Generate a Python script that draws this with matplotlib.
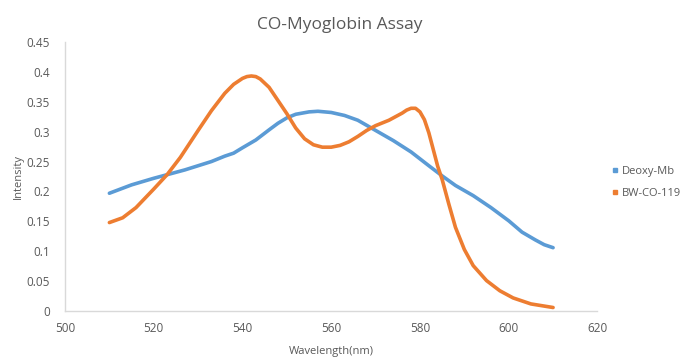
import matplotlib
matplotlib.use("Agg")
import matplotlib.pyplot as plt

plt.rcParams['font.family'] = ['Open Sans', 'DejaVu Sans']

title = "CO-Myoglobin Assay"
x_label = "Wavelength(nm)"
y_label = "Intensity"

deoxy_wl = [510, 515, 520, 523, 527, 530, 533, 536, 538, 540, 543, 546, 548, 550,
            552, 555, 557, 560, 563, 566, 570, 574, 578, 582, 585, 588, 592, 596,
            600, 603, 606, 608, 610]
deoxy_val = [0.197, 0.211, 0.222, 0.228, 0.236, 0.243, 0.250, 0.259, 0.264, 0.273,
             0.286, 0.303, 0.314, 0.323, 0.329, 0.333, 0.334, 0.332, 0.327, 0.319,
             0.302, 0.285, 0.266, 0.243, 0.226, 0.210, 0.193, 0.173, 0.151, 0.132,
             0.119, 0.111, 0.106]

bw_wl = [510, 513, 516, 520, 523, 526, 530, 533, 536, 538, 540, 541, 542, 543, 544,
         546, 548, 550, 552, 554, 556, 558, 560, 562, 564, 566, 568, 570, 573, 576,
         577, 578, 579, 580, 581, 582, 583, 584, 585, 586.5, 588, 590, 592, 595, 598,
         601, 605, 610]
bw_val = [0.148, 0.156, 0.173, 0.204, 0.228, 0.257, 0.302, 0.335, 0.364, 0.379,
          0.389, 0.392, 0.393, 0.392, 0.388, 0.374, 0.352, 0.330, 0.306, 0.288,
          0.278, 0.274, 0.274, 0.277, 0.283, 0.292, 0.302, 0.310, 0.319, 0.331,
          0.336, 0.339, 0.339, 0.333, 0.320, 0.298, 0.270, 0.242, 0.220, 0.179,
          0.140, 0.103, 0.076, 0.051, 0.034, 0.022, 0.012, 0.006]

series_names = ["Deoxy-Mb", "BW-CO-119"]
colors = ["#5B9BD5", "#ED7D31"]

x_ticks = [500, 520, 540, 560, 580, 600, 620]
y_ticks = [0, 0.05, 0.1, 0.15, 0.2, 0.25, 0.3, 0.35, 0.4, 0.45]
y_tick_labels = ["0", "0.05", "0.1", "0.15", "0.2", "0.25", "0.3", "0.35", "0.4", "0.45"]

fig = plt.figure(figsize=(6.8, 3.58), dpi=100)
ax = fig.add_axes([0.0956, 0.131, 0.783, 0.752])

ax.plot(deoxy_wl, deoxy_val, color=colors[0], lw=2.6, solid_joinstyle='round',
        solid_capstyle='round')
ax.plot(bw_wl, bw_val, color=colors[1], lw=2.6, solid_joinstyle='round',
        solid_capstyle='round')

ax.set_xlim(500, 620)
ax.set_ylim(0, 0.45)
ax.set_xticks(x_ticks)
ax.set_xticklabels([str(t) for t in x_ticks])
ax.set_yticks(y_ticks)
ax.set_yticklabels(y_tick_labels)
ax.tick_params(length=0, colors="#595959", labelsize=8.5)
ax.tick_params(axis='x', pad=8)
ax.tick_params(axis='y', pad=11)
for s in ["top", "right"]:
    ax.spines[s].set_visible(False)
for s in ["left", "bottom"]:
    ax.spines[s].set_color("#D9D9D9")
    ax.spines[s].set_linewidth(1)

ax.set_xlabel(x_label, color="#595959", fontsize=8, labelpad=8)
ax.set_ylabel(y_label, color="#595959", fontsize=8, labelpad=2)
fig.text(0.5, 0.93, title, ha="center", va="center", color="#595959", fontsize=12.5)

handles = [plt.Line2D([], [], ls='none', marker='s', markersize=3, color=c) for c in colors]
leg = fig.legend(handles, series_names, loc="center left", bbox_to_anchor=(0.885, 0.49),
                 frameon=False, fontsize=8, handlelength=0.6, handletextpad=0.3,
                 labelspacing=1.0, labelcolor="#595959")

fig.savefig("out.png", dpi=100)
